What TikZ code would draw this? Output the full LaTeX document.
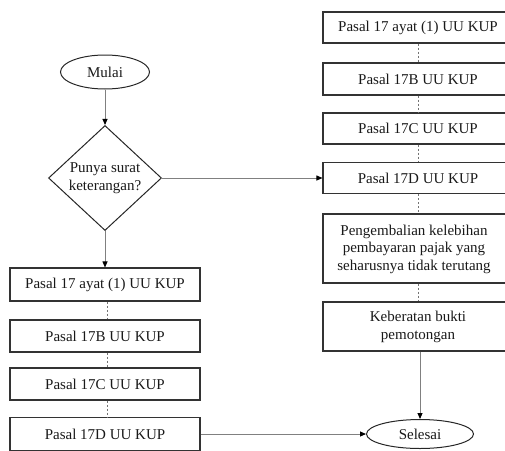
\documentclass[tikz,border=0pt]{standalone}
\usepackage{fontspec}
\setmainfont{Liberation Serif}
\usetikzlibrary{shapes.geometric,arrows.meta}
\begin{document}
\begin{tikzpicture}[x=1pt,y=-1pt,
  every node/.style={font=\fontsize{15}{17.5}\selectfont, text=black!90},
  boxl/.style={draw=black!80, line width=1.1pt, rectangle, minimum width=190pt, minimum height=33pt, inner sep=0pt},
  boxr/.style={draw=black!80, line width=1.1pt, rectangle, minimum width=190pt, inner sep=0pt, align=center},
  term/.style={draw=black!85, line width=1pt, ellipse, inner sep=0pt},
  dec/.style={draw=black!85, line width=1pt, diamond, inner sep=0pt, minimum width=113pt, minimum height=105pt, align=center},
  conn/.style={draw=black!50, line width=0.9pt, -{Triangle[length=6pt,width=5pt,fill=black,color=black]}},
  dsh/.style={draw=black!55, line width=0.6pt, dash pattern=on 2pt off 2pt}]
\useasboundingbox (0,0) rectangle (505,450);
\clip (0,0) rectangle (505,450);
% left column
\node[term, minimum width=89pt, minimum height=34pt] (mulai) at (105,72) {Mulai};
\node[dec] (q) at (105,178) {Punya surat\\keterangan?};
\node[boxl] (l1) at (105,284.5) {Pasal 17 ayat (1) UU KUP};
\node[boxl, minimum height=32pt] (l2) at (105,336) {Pasal 17B UU KUP};
\node[boxl, minimum height=32pt] (l3) at (105,384) {Pasal 17C UU KUP};
\node[boxl] (l4) at (105,434) {Pasal 17D UU KUP};
% right column
\node[boxr, minimum height=31pt] (r1) at (418,27.5) {Pasal 17 ayat (1) UU KUP};
\node[boxr, minimum height=32pt] (r2) at (418,79) {Pasal 17B UU KUP};
\node[boxr, minimum height=31pt] (r3) at (418,128.5) {Pasal 17C UU KUP};
\node[boxr, minimum height=31pt] (r4) at (418,178) {Pasal 17D UU KUP};
\node[boxr, minimum height=69pt] (r5) at (418,248.5) {};
\node at (414,249) [align=center] {Pengembalian kelebihan\\pembayaran pajak yang\\seharusnya tidak terutang};
\node[boxr, minimum height=49pt] (r6) at (418,326.5) {};
\node at (418,327) [align=center] {Keberatan bukti\\pemotongan};
\node[term, minimum width=107pt, minimum height=29pt] (selesai) at (420,434) {Selesai};
% connectors
\draw[conn] (mulai) -- (q);
\draw[conn] (q) -- (l1);
\draw[conn] (q.east) -- (r4.west);
\draw[conn] (l4.east) -- (selesai.west);
\draw[conn] ([xshift=2pt]r6.south) -- (selesai.north);
\draw[dsh] ([xshift=2pt]l1.south) -- ([xshift=2pt]l2.north);
\draw[dsh] ([xshift=2pt]l2.south) -- ([xshift=2pt]l3.north);
\draw[dsh] ([xshift=2pt]l3.south) -- ([xshift=2pt]l4.north);
\draw[dsh] (r1.south) -- (r2.north);
\draw[dsh] (r2.south) -- (r3.north);
\draw[dsh] (r3.south) -- (r4.north);
\draw[dsh] (r4.south) -- (r5.north);
\draw[dsh] (r5.south) -- (r6.north);
\end{tikzpicture}
\end{document}
